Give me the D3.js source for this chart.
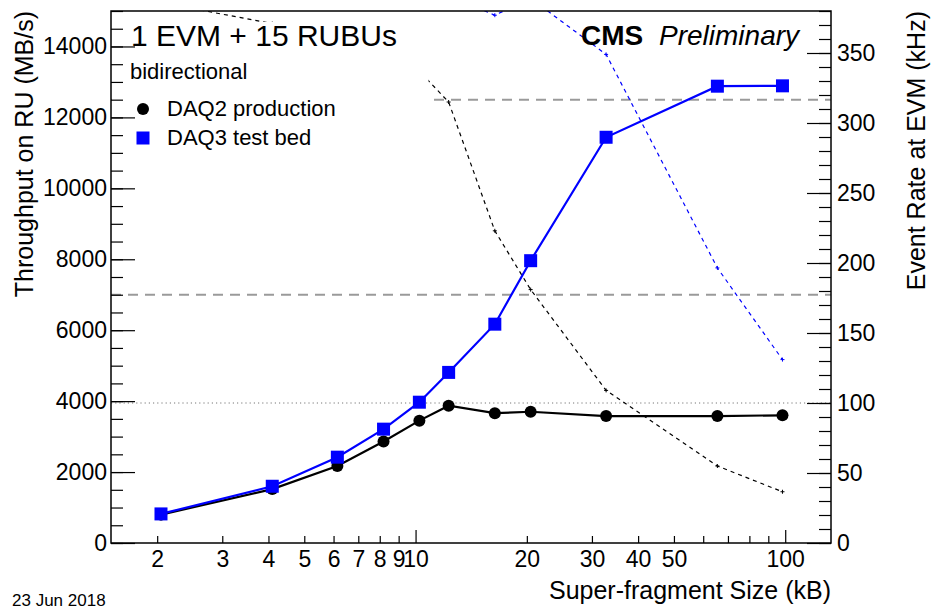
<!DOCTYPE html>
<html>
<head>
<meta charset="utf-8">
<script src="https://cdn.jsdelivr.net/npm/d3@7"></script>
<style>
body { margin: 0; background: #fff; }
svg { font-family: "Liberation Sans", Arial, sans-serif; }
</style>
</head>
<body>
<script>
// super-fragment sizes (kB)
var sizes = [2.048, 4.096, 6.144, 8.192, 10.24, 12.288, 16.384, 20.48, 32.768, 65.536, 98.304];
// throughput on RU (MB/s)
var daq2Throughput = [800, 1520, 2170, 2860, 3450, 3870, 3660, 3700, 3580, 3580, 3600];
var daq3Throughput = [820, 1600, 2420, 3210, 3970, 4810, 6170, 7960, 11440, 12880, 12890];
// event rate at EVM (kHz)
var daq2Rate = [386, 371, 353, 349, 337, 315, 223, 181, 109, 55, 36.6];
var daq3Rate = [400, 391, 394, 392, 388, 391, 377, 389, 349, 196.5, 131];
// reference lines
var linkLimits = [7000, 12500];
var rateTarget = 100;
// ticks
var xLabels = [2, 3, 4, 5, 6, 7, 8, 9, 10, 20, 30, 40, 50, 100];
var xMajor = [10, 100];
var xMinor = [2, 3, 4, 5, 6, 7, 8, 9, 20, 30, 40, 50, 60, 70, 80, 90];
var yLeftMajor = d3.range(0, 15001, 2000);
var yLeftMinor = d3.range(0, 15001, 500);
var yRightMajor = d3.range(0, 381, 50);
var yRightMinor = d3.range(0, 381, 10);

var W = 933, H = 608;
var frameL = 111, frameR = 831, frameT = 11, frameB = 543;

var svg = d3.select('body').append('svg')
    .attr('width', W)
    .attr('height', H);

var x = d3.scaleLog().domain([1.5, 133]).range([frameL, frameR]);
var yL = d3.scaleLinear().domain([0, 15000]).range([frameB, frameT]);
var yR = d3.scaleLinear().domain([0, 380]).range([frameB, frameT]);

svg.append('clipPath').attr('id', 'frame')
    .append('rect')
    .attr('x', frameL).attr('y', frameT)
    .attr('width', frameR - frameL).attr('height', frameB - frameT);

var plot = svg.append('g').attr('clip-path', 'url(#frame)');

// link limit lines
linkLimits.forEach(function (v) {
    plot.append('line')
        .attr('x1', frameL).attr('x2', frameR)
        .attr('y1', yL(v)).attr('y2', yL(v))
        .attr('stroke', '#9a9a9a')
        .attr('stroke-width', 2)
        .attr('stroke-dasharray', '10,7');
});

// 100 kHz line
plot.append('line')
    .attr('x1', frameL).attr('x2', frameR)
    .attr('y1', yR(rateTarget)).attr('y2', yR(rateTarget))
    .attr('stroke', '#777')
    .attr('stroke-width', 1)
    .attr('stroke-dasharray', '1.2,3');

function plotRate(values, color) {
    var pts = sizes.map(function (s, i) { return [x(s), yR(values[i])]; });
    plot.append('path')
        .datum(pts)
        .attr('fill', 'none')
        .attr('stroke', color)
        .attr('stroke-width', 1.2)
        .attr('stroke-dasharray', '4,4')
        .attr('d', d3.line());
    plot.selectAll(null)
        .data(pts)
        .enter().append('path')
        .attr('d', function (p) {
            return 'M' + (p[0] - 2) + ',' + p[1] + 'h4M' + p[0] + ',' + (p[1] - 2) + 'v4';
        })
        .attr('stroke', color)
        .attr('stroke-width', 1);
}

plotRate(daq2Rate, '#000');
plotRate(daq3Rate, '#0000ff');

// legend box covers what is behind it
svg.append('rect')
    .attr('x', frameL + 1).attr('y', 22)
    .attr('width', 428.5 - frameL - 1).attr('height', 138)
    .attr('fill', '#fff');

function plotThroughput(values, color, square) {
    var pts = sizes.map(function (s, i) { return [x(s), yL(values[i])]; });
    svg.append('path')
        .datum(pts)
        .attr('fill', 'none')
        .attr('stroke', color)
        .attr('stroke-width', 2.2)
        .attr('d', d3.line());
    var g = svg.append('g').attr('fill', color);
    if (square) {
        g.selectAll('rect').data(pts).enter().append('rect')
            .attr('x', function (p) { return p[0] - 6.5; })
            .attr('y', function (p) { return p[1] - 6.5; })
            .attr('width', 13).attr('height', 13);
    } else {
        g.selectAll('circle').data(pts).enter().append('circle')
            .attr('cx', function (p) { return p[0]; })
            .attr('cy', function (p) { return p[1]; })
            .attr('r', 6);
    }
}

plotThroughput(daq2Throughput, '#000', false);
plotThroughput(daq3Throughput, '#0000ff', true);

// frame
svg.append('rect')
    .attr('x', frameL).attr('y', frameT)
    .attr('width', frameR - frameL).attr('height', frameB - frameT)
    .attr('fill', 'none')
    .attr('stroke', '#000')
    .attr('stroke-width', 1.5);

function ticksOnly(axis, values, size) {
    return axis.tickValues(values).tickSize(size).tickFormat('');
}

function drawAxis(axis, transform) {
    var g = svg.append('g').attr('transform', transform).call(axis);
    g.select('.domain').remove();
    g.selectAll('line').attr('stroke', '#000').attr('stroke-width', 1.2);
    return g;
}

// x axis
drawAxis(ticksOnly(d3.axisTop(x), xMinor, 7), 'translate(0,' + frameB + ')');
drawAxis(ticksOnly(d3.axisTop(x), xMajor, 13), 'translate(0,' + frameB + ')');
var xl = drawAxis(d3.axisBottom(x).tickValues(xLabels).tickSize(0).tickPadding(8)
    .tickFormat(d3.format('d')), 'translate(0,' + frameB + ')');
xl.selectAll('text').attr('font-size', 23).attr('fill', '#000').attr('font-family', null);

// left axis
drawAxis(ticksOnly(d3.axisRight(yL), yLeftMinor, 12), 'translate(' + frameL + ',0)');
drawAxis(ticksOnly(d3.axisRight(yL), yLeftMajor, 24), 'translate(' + frameL + ',0)');
var yl = drawAxis(d3.axisLeft(yL).tickValues(yLeftMajor).tickSize(0).tickPadding(4)
    .tickFormat(d3.format('d')), 'translate(' + frameL + ',0)');
yl.selectAll('text').attr('font-size', 23).attr('fill', '#000').attr('font-family', null);

// right axis
drawAxis(ticksOnly(d3.axisLeft(yR), yRightMinor, 12), 'translate(' + frameR + ',0)');
drawAxis(ticksOnly(d3.axisLeft(yR), yRightMajor, 24), 'translate(' + frameR + ',0)');
var yr = drawAxis(d3.axisRight(yR).tickValues(yRightMajor).tickSize(0).tickPadding(6)
    .tickFormat(d3.format('d')), 'translate(' + frameR + ',0)');
yr.selectAll('text').attr('font-size', 23).attr('fill', '#000').attr('font-family', null);

// axis titles
svg.append('text')
    .attr('x', frameR).attr('y', 599)
    .attr('text-anchor', 'end')
    .attr('font-size', 25)
    .text('Super-fragment Size (kB)');

svg.append('text')
    .attr('transform', 'translate(33,' + frameT + ') rotate(-90)')
    .attr('text-anchor', 'end')
    .attr('font-size', 25)
    .text('Throughput on RU (MB/s)');

svg.append('text')
    .attr('transform', 'translate(925,' + frameT + ') rotate(-90)')
    .attr('text-anchor', 'end')
    .attr('font-size', 25)
    .text('Event Rate at EVM (kHz)');

// labels
svg.append('text')
    .attr('x', 131).attr('y', 46)
    .attr('font-size', 30)
    .text('1 EVM + 15 RUBUs');

svg.append('text')
    .attr('x', 130).attr('y', 79)
    .attr('font-size', 22)
    .text('bidirectional');

svg.append('text')
    .attr('x', 581).attr('y', 45)
    .attr('font-size', 28)
    .attr('font-weight', 'bold')
    .text('CMS');

svg.append('text')
    .attr('x', 659).attr('y', 45)
    .attr('font-size', 28)
    .attr('font-style', 'italic')
    .text('Preliminary');

svg.append('text')
    .attr('x', 12).attr('y', 606)
    .attr('font-size', 17)
    .text('23 Jun 2018');

// legend
svg.append('circle')
    .attr('cx', 143).attr('cy', 109).attr('r', 6)
    .attr('fill', '#000');
svg.append('text')
    .attr('x', 167).attr('y', 116)
    .attr('font-size', 22)
    .text('DAQ2 production');

svg.append('rect')
    .attr('x', 136.5).attr('y', 131.5).attr('width', 13).attr('height', 13)
    .attr('fill', '#0000ff');
svg.append('text')
    .attr('x', 167).attr('y', 145)
    .attr('font-size', 22)
    .text('DAQ3 test bed');
</script>
</body>
</html>
